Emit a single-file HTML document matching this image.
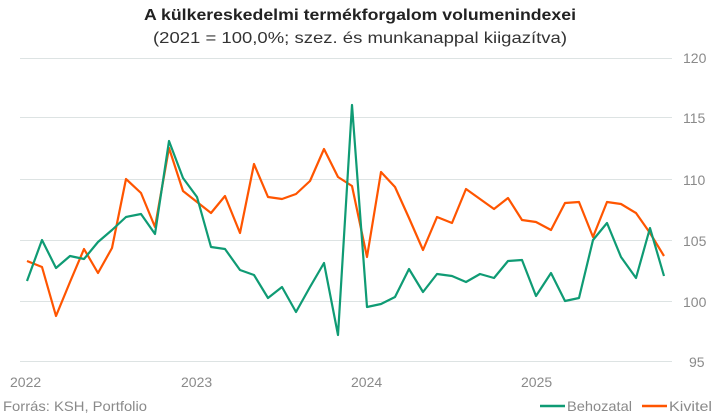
<!DOCTYPE html>
<html><head><meta charset="utf-8"><style>
html,body{margin:0;padding:0;background:#fff;}
svg{display:block;font-family:"Liberation Sans Narrow","Liberation Sans",sans-serif;}
</style></head><body>
<svg width="718" height="415" viewBox="0 0 718 415" xmlns="http://www.w3.org/2000/svg">
<text x="360" y="20" text-anchor="middle" font-size="16" font-weight="bold" fill="#222" textLength="432" lengthAdjust="spacingAndGlyphs">A külkereskedelmi termékforgalom volumenindexei</text>
<text x="360" y="43" text-anchor="middle" font-size="16" fill="#333" textLength="414" lengthAdjust="spacingAndGlyphs">(2021 = 100,0%; szez. és munkanappal kiigazítva)</text>
<g stroke="#dde3e3" stroke-width="1">
<line x1="20" y1="58.5" x2="672" y2="58.5"/>
<line x1="20" y1="117.5" x2="672" y2="117.5"/>
<line x1="20" y1="179.5" x2="672" y2="179.5"/>
<line x1="20" y1="240.5" x2="672" y2="240.5"/>
<line x1="20" y1="301.5" x2="672" y2="301.5"/>
<line x1="20" y1="361.5" x2="672" y2="361.5"/>
</g>
<g font-size="14" fill="#8a8a8a">
<text x="683" y="63">120</text>
<text x="683" y="123">115</text>
<text x="683" y="185">110</text>
<text x="683" y="246">105</text>
<text x="683" y="307">100</text>
<text x="689" y="367">95</text>
<text x="10" y="387">2022</text>
<text x="181" y="387">2023</text>
<text x="351" y="387">2024</text>
<text x="521" y="387">2025</text>
<text x="3" y="411" textLength="144" lengthAdjust="spacingAndGlyphs">Forrás: KSH, Portfolio</text>
<text x="567" y="411" textLength="65" lengthAdjust="spacingAndGlyphs">Behozatal</text>
<text x="669" y="411" textLength="43" lengthAdjust="spacingAndGlyphs">Kivitel</text>
</g>
<line x1="540" y1="406" x2="565" y2="406" stroke="#0f9b74" stroke-width="2.5"/>
<line x1="642" y1="406" x2="667" y2="406" stroke="#ff5500" stroke-width="2.5"/>
<polyline fill="none" stroke="#ff5500" stroke-width="2.2" stroke-linejoin="round" points="27,261 42,267 56,316 70,282 84,249 98,273 112,248 126,179 141,193 155,227 169,148 183,191 197,202 211,213 225,196 240,233 254,164 268,197 282,199 296,194 310,181 324,149 338,177 352,186 367,257 381,172 395,187 409,218 423,250 437,217 452,223 466,189 480,199 494,209 508,198 522,220 536,222 551,230 565,203 579,202 593,237 607,202 621,204 636,213 650,233 664,256"/>
<polyline fill="none" stroke="#0f9b74" stroke-width="2.2" stroke-linejoin="round" points="27,281 42,240 56,268 70,256 84,259 98,242 112,230 126,217 141,214 155,234 169,141 183,178 197,197 211,247 225,249 240,270 254,275 268,298 282,287 296,312 310,287 324,263 338,335 352,105 367,307 381,304 395,297 409,269 423,292 437,274 452,276 466,282 480,274 494,278 508,261 522,260 536,296 551,273 565,301 579,298 593,240 607,223 621,257 636,278 650,228 664,276"/>
</svg>
</body></html>
